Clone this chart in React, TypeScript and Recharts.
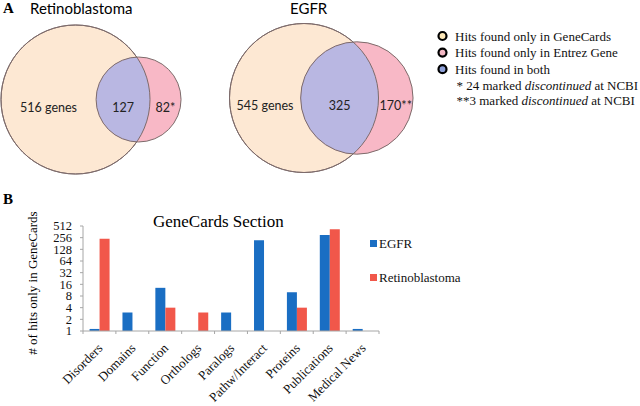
import { ScatterChart, Scatter, BarChart, Bar, XAxis, YAxis } from 'recharts'

// Venn counts (panel A)
const vennSets = ['Retinoblastoma', 'EGFR']
const onlyGeneCards = [516, 545]
const inBoth = [127, 325]
const onlyEntrez = [82, 170]
const entrezMarks = ['*', '**']

// Bar chart (panel B)
const sections = ['Disorders', 'Domains', 'Function', 'Orthologs', 'Paralogs', 'Pathw/Interact', 'Proteins', 'Publications', 'Medical News']
const egfrHits = [1.13, 3, 13, null, 3, 220, 10, 300, 1.13]
const retinoHits = [240, null, 4, 3, null, null, 4, 420, null]
const yTicks = [1, 2, 4, 8, 16, 32, 64, 128, 256, 512]
const seriesNames = ['EGFR', 'Retinoblastoma']

const BLUE = '#1A6EC3'
const RED = '#F1574A'
const PEACH = '#FDE8D3'
const PINK = '#F8B8C6'
const LAVENDER = '#B9B7E2'
const OUTLINE = '#7d6b6b'
const SANS = 'Lato, "Open Sans", sans-serif'
const SERIF = '"Liberation Serif", "Times New Roman", serif'

const BIG_R = 74.5
const vennCenters = [[75.5, 99.5], [304, 98]]

function lensArea(R: number, r: number, d: number) {
  if (d >= R + r) return 0
  if (d <= R - r) return Math.PI * r * r
  const a1 = Math.acos((d * d + r * r - R * R) / (2 * d * r))
  const a2 = Math.acos((d * d + R * R - r * r) / (2 * d * R))
  return r * r * (a1 - Math.sin(2 * a1) / 2) + R * R * (a2 - Math.sin(2 * a2) / 2)
}

// area-proportional circles, distance found by bisection
const vennPoints = vennSets.flatMap((name, i) => {
  const R = BIG_R
  const gcTotal = onlyGeneCards[i] + inBoth[i]
  const r = R * Math.sqrt((inBoth[i] + onlyEntrez[i]) / gcTotal)
  const target = (inBoth[i] / gcTotal) * Math.PI * R * R
  let lo = R - r
  let hi = R + r
  for (let k = 0; k < 60; k++) {
    const mid = (lo + hi) / 2
    if (lensArea(R, r, mid) > target) lo = mid
    else hi = mid
  }
  const d = (lo + hi) / 2
  const [x, y] = vennCenters[i]
  return [
    { x, y, kind: 'gc', name, R, r, d },
    { x: x + d, y, kind: 'entrez', name, R, r, d, i },
  ]
})

const VennShape = (props: any) => {
  const { cx, cy, payload } = props
  if (payload.kind === 'gc') {
    return <circle cx={cx} cy={cy} r={payload.R} fill={PEACH} stroke={OUTLINE} strokeWidth={1} />
  }
  const { R, r, d, i } = payload
  const bx = cx - d
  const a = (d * d + R * R - r * r) / (2 * d)
  const h = Math.sqrt(R * R - a * a)
  const px = bx + a
  const large = px > cx ? 1 : 0
  const lens = `M${px},${cy - h} A${r},${r} 0 ${large} 0 ${px},${cy + h} A${R},${R} 0 0 0 ${px},${cy - h} Z`
  const ty = cy + 12
  const txt = { fontFamily: SANS, fontSize: 12.5, fill: '#222', textAnchor: 'middle' as const }
  return (
    <g>
      <circle cx={cx} cy={cy} r={r} fill={PINK} />
      <path d={lens} fill={LAVENDER} />
      <circle cx={cx} cy={cy} r={r} fill="none" stroke={OUTLINE} strokeWidth={1} />
      <circle cx={bx} cy={cy} r={R} fill="none" stroke={OUTLINE} strokeWidth={1} />
      <text x={(bx - R + cx - r) / 2} y={ty} {...txt}>{`${onlyGeneCards[i]} genes`}</text>
      <text x={(cx - r + bx + R) / 2} y={ty} {...txt}>{inBoth[i]}</text>
      <text x={(bx + R + cx + r) / 2} y={ty} {...txt}>{`${onlyEntrez[i]}${entrezMarks[i]}`}</text>
    </g>
  )
}

const barData = sections.map((s, i) => ({ section: s, egfr: egfrHits[i], retino: retinoHits[i] }))

const PLOT_LEFT = 83
const PLOT_RIGHT = 379
const BAND = (PLOT_RIGHT - PLOT_LEFT) / sections.length

const SectionTick = (props: any) => {
  const { x, y, payload, index } = props
  const left = x - BAND / 2
  const ax = x + 4
  const ay = y + 18
  return (
    <g>
      <line x1={left} x2={left} y1={y} y2={y + 3} stroke="#a6a6a6" />
      {index === sections.length - 1 && (
        <line x1={left + BAND} x2={left + BAND} y1={y} y2={y + 3} stroke="#a6a6a6" />
      )}
      <text
        x={ax}
        y={ay}
        textAnchor="end"
        transform={`rotate(-45 ${ax} ${ay})`}
        fontFamily={SERIF}
        fontSize={13}
        fill="#111"
      >
        {payload.value}
      </text>
    </g>
  )
}

const legendA = [
  { fill: '#FDE8B8', text: 'Hits found only in GeneCards' },
  { fill: '#F4B8C4', text: 'Hits found only in Entrez Gene' },
  { fill: '#8EA0D8', text: 'Hits found in both' },
]

export default function App() {
  return (
    <div style={{ position: 'absolute', left: 0, top: 0, width: 640, height: 406, background: '#fff', fontFamily: SERIF, overflow: 'hidden' }}>
      <div style={{ position: 'absolute', left: 3, top: 0, fontSize: 15, fontWeight: 'bold', lineHeight: '16px' }}>A</div>
      <div style={{ position: 'absolute', left: 3, top: 191, fontSize: 15, fontWeight: 'bold', lineHeight: '16px' }}>B</div>
      <div style={{ position: 'absolute', left: 30, top: -1, fontFamily: SANS, fontSize: 15, lineHeight: '18px' }}>{vennSets[0]}</div>
      <div style={{ position: 'absolute', left: 290, top: -1, fontFamily: SANS, fontSize: 15, lineHeight: '18px' }}>{vennSets[1]}</div>

      <div style={{ position: 'absolute', left: 0, top: 0 }}>
        <ScatterChart width={640} height={190} margin={{ top: 0, right: 0, bottom: 0, left: 0 }}>
          <XAxis type="number" dataKey="x" domain={[0, 640]} hide />
          <YAxis type="number" dataKey="y" domain={[0, 190]} reversed hide />
          <Scatter data={vennPoints} shape={VennShape} isAnimationActive={false} />
        </ScatterChart>
      </div>

      <svg width={204} height={110} style={{ position: 'absolute', left: 436, top: 25 }} fontFamily={SERIF} fontSize={13} fill="#111">
        {legendA.map((l, k) => (
          <g key={l.text}>
            <circle cx={6.5} cy={11 + k * 16.6} r={4} fill={l.fill} stroke="#000" strokeWidth={2.2} />
            <text x={19} y={15.5 + k * 16.6}>{l.text}</text>
          </g>
        ))}
        <text x={20.5} y={65}>* 24 marked <tspan fontStyle="italic">discontinued</tspan> at NCBI</text>
        <text x={20.5} y={80}>**3 marked <tspan fontStyle="italic">discontinued</tspan> at NCBI</text>
      </svg>

      <div style={{ position: 'absolute', left: 153, top: 212, fontSize: 17, width: 130, textAlign: 'center', whiteSpace: 'nowrap' }}>GeneCards Section</div>
      <div style={{ position: 'absolute', left: 33, top: 283, width: 0, height: 0 }}>
        <div style={{ position: 'absolute', transform: 'translate(-50%, -50%) rotate(-90deg)', whiteSpace: 'nowrap', fontSize: 13 }}>
          # of hits only in GeneCards
        </div>
      </div>

      <div style={{ position: 'absolute', left: 0, top: 190 }}>
        <BarChart width={640} height={216} data={barData} margin={{ top: 36, right: 640 - PLOT_RIGHT, bottom: 0, left: 0 }} barCategoryGap="20%" barGap={0}>
          <XAxis dataKey="section" interval={0} height={75} tickLine={false} tickSize={0} tickMargin={0} axisLine={{ stroke: '#a6a6a6' }} tick={<SectionTick />} />
          <YAxis
            width={PLOT_LEFT}
            scale="log"
            domain={[1, 512]}
            ticks={yTicks}
            interval={0}
            allowDataOverflow
            axisLine={{ stroke: '#a6a6a6' }}
            tickLine={{ stroke: '#a6a6a6' }}
            tickSize={3}
            tickMargin={8}
            tick={{ fontFamily: SERIF, fontSize: 12.5, fill: '#111' }}
          />
          <Bar dataKey="egfr" name={seriesNames[0]} fill={BLUE} isAnimationActive={false} />
          <Bar dataKey="retino" name={seriesNames[1]} fill={RED} isAnimationActive={false} />
        </BarChart>
      </div>

      <div style={{ position: 'absolute', left: 370, top: 235, fontSize: 13, color: '#111' }}>
        {seriesNames.map((s, i) => (
          <div key={s} style={{ display: 'flex', alignItems: 'center', height: 17, marginBottom: i === 0 ? 17 : 0 }}>
            <span style={{ display: 'inline-block', width: 7, height: 7, background: i === 0 ? BLUE : RED, marginRight: 2 }} />
            {s}
          </div>
        ))}
      </div>
    </div>
  )
}
